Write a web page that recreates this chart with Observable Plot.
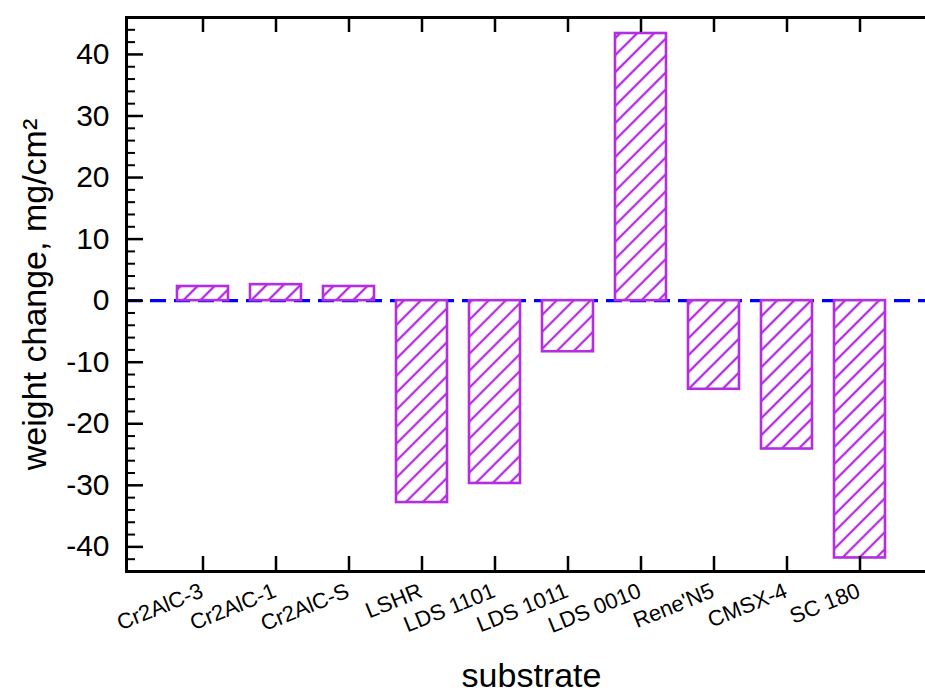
<!DOCTYPE html>
<html><head><meta charset="utf-8">
<script src="https://cdn.jsdelivr.net/npm/d3@7"></script>
<script src="https://cdn.jsdelivr.net/npm/@observablehq/plot@0.6"></script>
<style>body{margin:0;background:#fff} svg{display:block}</style>
</head><body><div id="chart"></div>
<script>
const categories = ["Cr2AlC-3","Cr2AlC-1","Cr2AlC-S","LSHR","LDS 1101","LDS 1011","LDS 0010","Rene'N5","CMSX-4","SC 180"];
const values = [2.3, 2.6, 2.3, -32.8, -29.7, -8.3, 43.4, -14.4, -24.1, -41.8];
const yTicks = [-40, -30, -20, -10, 0, 10, 20, 30, 40];
const yDomain = [-44, 46];
const xLabel = "substrate";
const yLabel = "weight change, mg/cm²";

const data = categories.map((c, i) => ({c, v: values[i]}));
const minorTicks = d3.range(-44, 47, 2).filter(v => v % 10 !== 0);

const W = 925, H = 693, mL = 126, mR = -11, mT = 17, mB = 122;
const fw = W - mL - mR, fh = H - mT - mB;
const purple = "#b22ee0";
const font = "'Liberation Sans', Arial, sans-serif";

const svg = Plot.plot({
  width: W, height: H, marginLeft: mL, marginRight: mR, marginTop: mT, marginBottom: mB,
  style: {fontFamily: font, background: "white"},
  x: {type: "band", domain: categories, paddingInner: 0.3, paddingOuter: 0.65, axis: null},
  y: {domain: yDomain, axis: null},
  marks: [
    Plot.ruleY([0], {stroke: "#0000ff", strokeWidth: 3.4, strokeDasharray: "16,8"}),
    Plot.barY(data, {x: "c", y1: 0, y2: "v", fill: "url(#hatch)", stroke: purple, strokeWidth: 2.6}),
    Plot.tickY(yTicks, {y: d => d, insetRight: fw - 17, stroke: "black", strokeWidth: 2.5}),
    Plot.tickY(minorTicks, {y: d => d, insetRight: fw - 9, stroke: "black", strokeWidth: 2}),
    Plot.tickX(categories, {x: d => d, insetBottom: fh - 15, stroke: "black", strokeWidth: 2.5}),
    Plot.tickX(categories, {x: d => d, insetTop: fh - 15, stroke: "black", strokeWidth: 2.5}),
    Plot.frame({stroke: "black", strokeWidth: 3}),
    Plot.text(yTicks, {y: d => d, text: d => String(d), frameAnchor: "left", dx: -17, textAnchor: "end", lineAnchor: "middle", fontSize: 30, fill: "black"}),
    Plot.text(categories, {x: d => d, text: d => d, frameAnchor: "bottom", dy: 18.5, dx: -1, rotate: -22, textAnchor: "end", lineAnchor: "middle", fontSize: 22, fill: "black"}),
    Plot.text([yLabel], {text: d => d, frameAnchor: "left", dx: -91.5, rotate: -90, textAnchor: "middle", lineAnchor: "middle", fontSize: 34, fill: "black"}),
    Plot.text([xLabel], {text: d => d, frameAnchor: "bottom", dy: 105, textAnchor: "middle", lineAnchor: "middle", fontSize: 34, fill: "black"})
  ]
});

const defs = d3.select(svg).insert("defs", ":first-child");
const p = defs.append("pattern").attr("id", "hatch").attr("patternUnits", "userSpaceOnUse")
  .attr("width", 12).attr("height", 12).attr("patternTransform", "rotate(45)");
p.append("rect").attr("width", 12).attr("height", 12).attr("fill", "white");
p.append("line").attr("x1", 6).attr("y1", -1).attr("x2", 6).attr("y2", 13)
  .attr("stroke", purple).attr("stroke-width", 2.3);

document.getElementById("chart").appendChild(svg);
</script>
</body></html>
